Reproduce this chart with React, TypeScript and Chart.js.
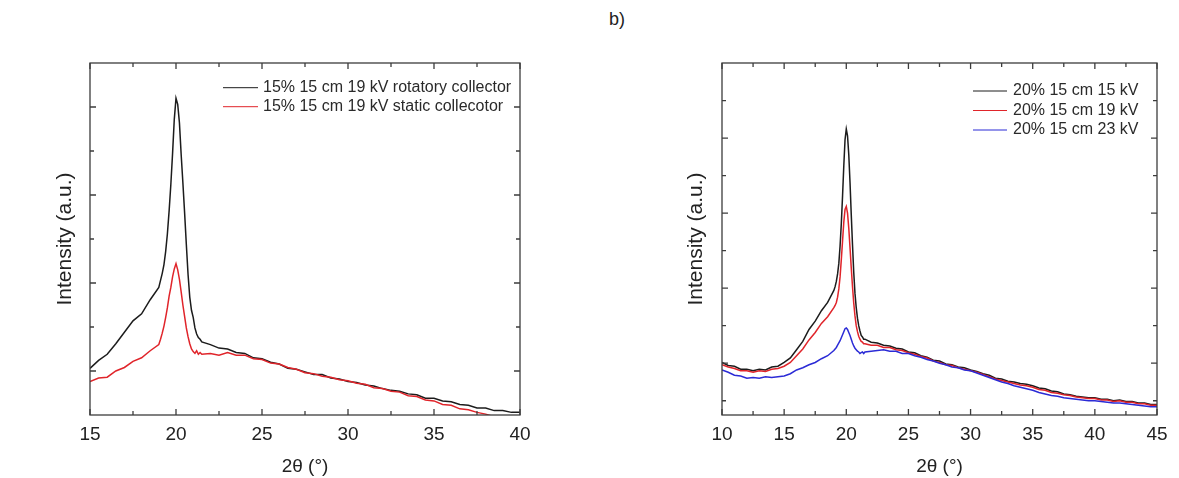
import React, { useEffect, useRef } from "react";
import { Chart, registerables } from "chart.js";

Chart.register(...registerables);

const FONT = "'Liberation Sans', Arial, Helvetica, sans-serif";

// ---------------- Panel (left): 15% 15 cm 19 kV ----------------
const leftAngles = [
  15, 15.5, 16, 16.5, 17, 17.5, 18, 18.5, 19,
  19.1, 19.2, 19.3, 19.4, 19.5, 19.6, 19.7, 19.8, 19.9, 20, 20.1, 20.2, 20.3, 20.4, 20.5,
  20.6, 20.7, 20.8, 20.9, 21, 21.1, 21.2, 21.3, 21.4, 21.5,
  22, 22.5, 23, 23.5, 24, 24.5, 25, 25.5, 26, 26.5, 27, 27.5, 28, 28.5, 29, 29.5, 30,
  30.5, 31, 31.5, 32, 32.5, 33, 33.5, 34, 34.5, 35, 35.5, 36, 36.5, 37, 37.5, 38, 38.5,
  39, 39.5, 40,
];
const leftRotatory = [
  1.03, 1.12, 1.19, 1.31, 1.44, 1.57, 1.65, 1.81, 1.95,
  2.03, 2.11, 2.21, 2.36, 2.56, 2.82, 3.12, 3.47, 3.86, 4.1, 4.03, 3.82, 3.46, 3.14, 2.8,
  2.44, 2.1, 1.84, 1.69, 1.61, 1.49, 1.42, 1.38, 1.36, 1.33,
  1.3, 1.26, 1.25, 1.21, 1.2, 1.15, 1.14, 1.1, 1.08, 1.03, 1.02, 0.99, 0.96, 0.96, 0.92, 0.91, 0.88,
  0.87, 0.84, 0.83, 0.8, 0.78, 0.77, 0.74, 0.73, 0.69, 0.69, 0.66, 0.65, 0.62, 0.61, 0.58, 0.58, 0.55,
  0.55, 0.53, 0.53,
];
const leftStatic = [
  0.88, 0.92, 0.93, 1.0, 1.04, 1.11, 1.15, 1.23, 1.3,
  1.36, 1.43, 1.51, 1.61, 1.72, 1.85, 1.95, 2.07, 2.16, 2.22, 2.15, 2.04, 1.9, 1.75, 1.62,
  1.49, 1.39, 1.31, 1.25, 1.22, 1.2, 1.23, 1.19, 1.21, 1.19,
  1.2, 1.18, 1.21, 1.18, 1.18, 1.14, 1.13, 1.09, 1.08, 1.04, 1.02, 0.98, 0.97, 0.94, 0.93, 0.9, 0.89,
  0.86, 0.85, 0.81, 0.8, 0.77, 0.76, 0.72, 0.71, 0.67, 0.66, 0.62, 0.61, 0.57, 0.56, 0.53, 0.51, 0.48,
  0.47, 0.45, 0.45,
];
const leftLabels = [
  "15% 15 cm 19 kV rotatory collector",
  "15% 15 cm 19 kV static collecotor",
];
const leftXMajor = [15, 20, 25, 30, 35, 40];
const leftXMinor = [17.5, 22.5, 27.5, 32.5, 37.5];
const leftYMajor = [1, 2, 3, 4];
const leftYMinor = [1.5, 2.5, 3.5];

// ---------------- Panel (right): 20% 15 cm, different voltages ----------------
const rightAngles = [
  10, 10.5, 11, 11.5, 12, 12.5, 13, 13.5, 14, 14.5, 15, 15.5, 16, 16.5, 17, 17.5, 18, 18.5, 19,
  19.1, 19.2, 19.3, 19.4, 19.5, 19.6, 19.7, 19.8, 19.9, 20, 20.1, 20.2, 20.3, 20.4, 20.5,
  20.6, 20.7, 20.8, 20.9, 21, 21.1, 21.2, 21.3, 21.4, 21.5,
  22, 22.5, 23, 23.5, 24, 24.5, 25, 25.5, 26, 26.5, 27, 27.5, 28, 28.5, 29, 29.5, 30,
  30.5, 31, 31.5, 32, 32.5, 33, 33.5, 34, 34.5, 35, 35.5, 36, 36.5, 37, 37.5, 38, 38.5,
  39, 39.5, 40, 40.5, 41, 41.5, 42, 42.5, 43, 43.5, 44, 44.5, 45,
];
const right15kV = [
  1.01, 0.97, 0.96, 0.92, 0.92, 0.9, 0.92, 0.91, 0.95, 0.96, 1.01, 1.07, 1.18, 1.29, 1.45, 1.56, 1.7, 1.81, 1.97,
  2.02, 2.09, 2.19, 2.33, 2.56, 2.86, 3.23, 3.63, 3.98, 4.12, 4.03, 3.78, 3.41, 2.98, 2.58,
  2.21, 1.93, 1.74, 1.6, 1.5, 1.43, 1.37, 1.35, 1.32, 1.32,
  1.28, 1.27, 1.24, 1.23, 1.2, 1.19, 1.15, 1.14, 1.1, 1.08, 1.04, 1.03, 0.99, 0.98, 0.95, 0.94, 0.91,
  0.89, 0.86, 0.84, 0.8, 0.79, 0.76, 0.75, 0.73, 0.72, 0.7, 0.67, 0.66, 0.63, 0.62, 0.59, 0.58, 0.56,
  0.55, 0.54, 0.54, 0.52, 0.52, 0.5, 0.51, 0.49, 0.49, 0.47, 0.47, 0.45, 0.45,
];
const right19kV = [
  0.98, 0.95, 0.93, 0.9, 0.9, 0.88, 0.9, 0.89, 0.92, 0.93, 0.96, 1.01, 1.1, 1.19, 1.31, 1.41, 1.53, 1.62, 1.74,
  1.77, 1.81, 1.88, 1.99, 2.15, 2.38, 2.63, 2.88, 3.05, 3.09, 3.0, 2.8, 2.54, 2.27, 2.02,
  1.8, 1.63, 1.5, 1.42, 1.36, 1.32, 1.29, 1.28, 1.26, 1.26,
  1.24, 1.24, 1.21, 1.21, 1.18, 1.17, 1.14, 1.12, 1.09, 1.07, 1.03, 1.01, 0.98, 0.97, 0.94, 0.92, 0.9,
  0.88, 0.85, 0.82, 0.79, 0.77, 0.75, 0.73, 0.71, 0.7, 0.68, 0.65, 0.64, 0.61, 0.6, 0.58, 0.57, 0.55,
  0.54, 0.53, 0.53, 0.51, 0.51, 0.49, 0.5, 0.48, 0.48, 0.46, 0.46, 0.44, 0.44,
];
const right23kV = [
  0.91, 0.88, 0.84, 0.83, 0.8, 0.81, 0.8, 0.82, 0.81, 0.82, 0.83, 0.86, 0.91, 0.94, 0.98, 1.01, 1.06, 1.1, 1.17,
  1.19, 1.21, 1.24, 1.27, 1.3, 1.34, 1.38, 1.42, 1.46, 1.47, 1.45, 1.41, 1.37, 1.32, 1.27,
  1.23, 1.2, 1.18, 1.16, 1.15, 1.13, 1.14, 1.15, 1.13, 1.15,
  1.16, 1.17, 1.18, 1.16, 1.16, 1.13, 1.13, 1.1, 1.08, 1.05, 1.03, 1.0, 0.98, 0.95, 0.94, 0.91, 0.9,
  0.87, 0.84, 0.81, 0.78, 0.75, 0.73, 0.7, 0.68, 0.66, 0.64, 0.61, 0.59, 0.57, 0.56, 0.54, 0.53, 0.52,
  0.51, 0.5, 0.5, 0.49, 0.48, 0.47, 0.47, 0.46, 0.45, 0.44, 0.43, 0.42, 0.42,
];
const rightLabels = ["20% 15 cm 15 kV", "20% 15 cm 19 kV", "20% 15 cm 23 kV"];
const rightXMajor = [10, 15, 20, 25, 30, 35, 40, 45];
const rightXMinor = [12.5, 17.5, 22.5, 27.5, 32.5, 37.5, 42.5];
const rightYMajor = [1, 2, 3, 4];
const rightYMinor = [0.5, 1.5, 2.5, 3.5, 4.5];

const xTitle = "2θ (°)";
const yTitle = "Intensity (a.u.)";
const panelTitle = "b)";

const BLACK = "#1c1c1c";
const RED = "#e0242a";
const BLUE = "#2b2bd6";

// ---------------- plugins ----------------
const frameTicks = {
  id: "frameTicks",
  afterDatasetsDraw(chart: any, _args: any, opts: any) {
    const { ctx, chartArea: a, scales } = chart;
    const xs = scales.x;
    const ys = scales.y;
    ctx.save();
    ctx.strokeStyle = opts.color;
    ctx.lineWidth = opts.lineWidth;
    ctx.beginPath();
    const xTick = (v: number, len: number) => {
      const p = xs.getPixelForValue(v);
      ctx.moveTo(p, a.bottom);
      ctx.lineTo(p, a.bottom - len);
      ctx.moveTo(p, a.top);
      ctx.lineTo(p, a.top + len);
    };
    const yTick = (v: number, len: number) => {
      const p = ys.getPixelForValue(v);
      ctx.moveTo(a.left, p);
      ctx.lineTo(a.left + len, p);
      ctx.moveTo(a.right, p);
      ctx.lineTo(a.right - len, p);
    };
    opts.xMajor.forEach((v: number) => xTick(v, opts.majorLen));
    opts.xMinor.forEach((v: number) => xTick(v, opts.minorLen));
    opts.yMajor.forEach((v: number) => yTick(v, opts.majorLen));
    opts.yMinor.forEach((v: number) => yTick(v, opts.minorLen));
    ctx.stroke();
    ctx.strokeRect(a.left, a.top, a.right - a.left, a.bottom - a.top);
    ctx.restore();
  },
};

const insetLegend = {
  id: "insetLegend",
  afterDraw(chart: any, _args: any, opts: any) {
    const { ctx, chartArea: a } = chart;
    ctx.save();
    ctx.font = `${opts.size}px ${FONT}`;
    ctx.textBaseline = "middle";
    ctx.textAlign = "left";
    chart.data.datasets.forEach((ds: any, i: number) => {
      const yy = a.top + opts.top + i * opts.rowHeight;
      const x0 = a.left + opts.left;
      ctx.strokeStyle = ds.borderColor;
      ctx.lineWidth = 1;
      ctx.beginPath();
      ctx.moveTo(x0, yy);
      ctx.lineTo(x0 + opts.lineLength, yy);
      ctx.stroke();
      ctx.fillStyle = opts.color;
      ctx.fillText(ds.label, x0 + opts.lineLength + opts.gap, yy);
    });
    ctx.restore();
  },
};

type Series = { label: string; values: number[]; color: string; order: number };

type PanelProps = {
  left: number;
  width: number;
  height: number;
  angles: number[];
  series: Series[];
  xMin: number;
  xMax: number;
  yMin: number;
  yMax: number;
  xMajor: number[];
  xMinor: number[];
  yMajor: number[];
  yMinor: number[];
  padding: { left: number; right: number; top: number; bottom: number };
  yAxisWidth: number;
  xAxisHeight: number;
  legend: { left: number; top: number; rowHeight: number; lineLength: number; gap: number };
};

function Panel(p: PanelProps) {
  const ref = useRef<HTMLCanvasElement | null>(null);
  useEffect(() => {
    if (!ref.current) return;
    const chart = new Chart(ref.current, {
      type: "line",
      data: {
        datasets: p.series.map((s) => ({
          label: s.label,
          data: p.angles.map((a, i) => ({ x: a, y: s.values[i] })),
          borderColor: s.color,
          backgroundColor: s.color,
          borderWidth: 1.5,
          pointRadius: 0,
          tension: 0,
          fill: false,
          order: s.order,
        })),
      },
      options: {
        responsive: false,
        maintainAspectRatio: false,
        animation: false,
        events: [],
        layout: { padding: p.padding },
        plugins: {
          legend: { display: false },
          tooltip: { enabled: false },
          frameTicks: {
            color: "#3c3c3c",
            lineWidth: 1.3,
            majorLen: 6,
            minorLen: 4,
            xMajor: p.xMajor,
            xMinor: p.xMinor,
            yMajor: p.yMajor,
            yMinor: p.yMinor,
          },
          insetLegend: { ...p.legend, size: 16, color: "#2a2a2a" },
        } as any,
        scales: {
          x: {
            type: "linear",
            min: p.xMin,
            max: p.xMax,
            grid: { display: false },
            border: { display: false },
            afterBuildTicks: (scale: any) => {
              scale.ticks = p.xMajor.map((v) => ({ value: v }));
            },
            afterFit: (scale: any) => {
              scale.height = p.xAxisHeight;
            },
            ticks: {
              padding: 0,
              color: "#222",
              font: { family: FONT, size: 19 },
              callback: (v: any) => String(v),
              maxRotation: 0,
              autoSkip: false,
            },
            title: {
              display: true,
              text: xTitle,
              color: "#222",
              font: { family: FONT, size: 19 },
              padding: { top: 0, bottom: 0 },
            },
          },
          y: {
            type: "linear",
            min: p.yMin,
            max: p.yMax,
            grid: { display: false },
            border: { display: false },
            ticks: { display: false },
            afterFit: (scale: any) => {
              scale.width = p.yAxisWidth;
            },
            title: {
              display: true,
              text: yTitle,
              color: "#222",
              font: { family: FONT, size: 21 },
              padding: { top: 4, bottom: 4 },
            },
          },
        },
      },
      plugins: [frameTicks, insetLegend],
    });
    return () => chart.destroy();
  }, []);
  return (
    <canvas
      ref={ref}
      width={p.width}
      height={p.height}
      style={{ position: "absolute", left: p.left, top: 0, width: p.width, height: p.height }}
    />
  );
}

export default function App() {
  return (
    <div
      style={{
        position: "absolute",
        left: 0,
        top: 0,
        width: 1179,
        height: 478,
        background: "#ffffff",
        overflow: "hidden",
      }}
    >
      <div
        style={{
          position: "absolute",
          left: 609,
          top: 10,
          fontFamily: FONT,
          fontSize: 18,
          lineHeight: "18px",
          color: "#222",
        }}
      >
        {panelTitle}
      </div>
      <Panel
        left={0}
        width={590}
        height={478}
        angles={leftAngles}
        series={[
          { label: leftLabels[0], values: leftRotatory, color: BLACK, order: 1 },
          { label: leftLabels[1], values: leftStatic, color: RED, order: 0 },
        ]}
        xMin={15}
        xMax={40}
        yMin={0.5}
        yMax={4.5}
        xMajor={leftXMajor}
        xMinor={leftXMinor}
        yMajor={leftYMajor}
        yMinor={leftYMinor}
        padding={{ left: 49, right: 70, top: 63, bottom: 0 }}
        yAxisWidth={41}
        xAxisHeight={63}
        legend={{ left: 133, top: 24.7, rowHeight: 19, lineLength: 35, gap: 5 }}
      />
      <Panel
        left={600}
        width={579}
        height={478}
        angles={rightAngles}
        series={[
          { label: rightLabels[0], values: right15kV, color: BLACK, order: 2 },
          { label: rightLabels[1], values: right19kV, color: RED, order: 1 },
          { label: rightLabels[2], values: right23kV, color: BLUE, order: 0 },
        ]}
        xMin={10}
        xMax={45}
        yMin={0.31}
        yMax={5.0}
        xMajor={rightXMajor}
        xMinor={rightXMinor}
        yMajor={rightYMajor}
        yMinor={rightYMinor}
        padding={{ left: 80, right: 22, top: 63, bottom: 0 }}
        yAxisWidth={42}
        xAxisHeight={63}
        legend={{ left: 251, top: 28, rowHeight: 19.5, lineLength: 34, gap: 6 }}
      />
    </div>
  );
}
